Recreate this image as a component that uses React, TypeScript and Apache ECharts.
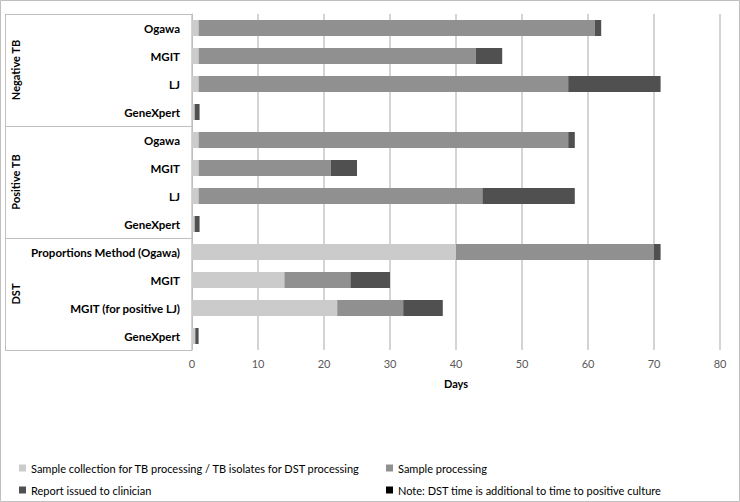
import React, { useEffect, useRef } from "react";
import * as echarts from "echarts";

const categories = [
  "Ogawa", "MGIT", "LJ", "GeneXpert",
  "Ogawa", "MGIT", "LJ", "GeneXpert",
  "Proportions Method (Ogawa)", "MGIT", "MGIT (for positive LJ)", "GeneXpert",
];
const groups = ["Negative TB", "Positive TB", "DST"];
const seriesNames = [
  "Sample collection for TB processing / TB isolates for DST processing",
  "Sample processing",
  "Report issued to clinician",
  "Note: DST time is additional to time to positive culture",
];
const collection = [1, 1, 1, 0.35, 1, 1, 1, 0.35, 40, 14, 22, 0.5];
const processing = [60, 42, 56, 0.1, 56, 20, 43, 0.1, 30, 10, 10, 0];
const report = [1, 4, 14, 0.7, 1, 4, 14, 0.7, 1, 6, 6, 0.5];
const note: number[] = [];
const xTicks = { min: 0, max: 80, interval: 10 };
const colors = ["#cbcbcb", "#909090", "#505050", "#000000"];

const FONT = "Lato, 'Noto Sans', sans-serif";

export default function App() {
  const ref = useRef<HTMLDivElement>(null);
  useEffect(() => {
    document.body.style.margin = "0";
    const chart = echarts.init(ref.current!, null, { renderer: "svg" });
    const gridTop = 14;
    const gridH = 336;
    const gridLeft = 192;
    const band = gridH / categories.length;
    const groupLines = [0, 4, 8, 12].map((i) => gridTop + i * band);
    const graphics: any[] = [
      {
        type: "rect",
        shape: { x: 0.5, y: 0.5, width: 739, height: 501 },
        style: { fill: "none", stroke: "#bfbfbf", lineWidth: 1 },
        silent: true,
      },
      {
        type: "line",
        shape: { x1: 5.5, y1: gridTop, x2: 5.5, y2: gridTop + gridH },
        style: { stroke: "#bfbfbf", lineWidth: 1 },
      },
      ...groupLines.map((y) => ({
        type: "line",
        shape: { x1: 5, y1: Math.round(y) + 0.5, x2: gridLeft, y2: Math.round(y) + 0.5 },
        style: { stroke: "#bfbfbf", lineWidth: 1 },
      })),
      ...groups.map((g, i) => ({
        type: "text",
        x: 15,
        y: gridTop + (i * 4 + 2) * band,
        rotation: Math.PI / 2,
        style: {
          text: g,
          fontFamily: FONT,
          fontWeight: "bold",
          fontSize: 11,
          fill: "#000",
          align: "center",
          verticalAlign: "middle",
        },
      })),
    ];
    const legendBase = {
      orient: "vertical",
      icon: "rect",
      itemWidth: 7,
      itemHeight: 7,
      itemGap: 8,
      padding: 0,
      top: 461,
      height: 40,
      textStyle: { fontFamily: FONT, fontSize: 11, color: "#000", lineHeight: 14 },
      selectedMode: false,
    };
    chart.setOption({
      animation: false,
      textStyle: { fontFamily: FONT },
      grid: { left: gridLeft, top: gridTop, width: 528, height: gridH, containLabel: false },
      xAxis: {
        type: "value",
        min: xTicks.min,
        max: xTicks.max,
        interval: xTicks.interval,
        name: "Days",
        nameLocation: "middle",
        nameGap: 28,
        nameTextStyle: { fontFamily: FONT, fontWeight: "bold", fontSize: 11, color: "#000" },
        axisLine: { show: false },
        axisTick: { show: false },
        axisLabel: { color: "#595959", fontSize: 11, margin: 8, fontFamily: FONT },
        splitLine: { show: true, lineStyle: { color: "#c6c6c6", width: 1.5 } },
      },
      yAxis: {
        type: "category",
        inverse: true,
        data: categories,
        axisLine: { show: true, lineStyle: { color: "#bfbfbf", width: 1 } },
        axisTick: { show: false },
        axisLabel: {
          color: "#000",
          fontWeight: "bold",
          fontSize: 11.5,
          fontFamily: FONT,
          margin: 12,
          interval: 0,
        },
      },
      legend: [
        { ...legendBase, left: 19, data: [seriesNames[0], seriesNames[2]] },
        { ...legendBase, left: 386, data: [seriesNames[1], seriesNames[3]] },
      ],
      graphic: graphics,
      series: [collection, processing, report, note].map((d, i) => ({
        name: seriesNames[i],
        type: "bar",
        stack: "total",
        data: d,
        barWidth: 16,
        itemStyle: { color: colors[i] },
        emphasis: { disabled: true },
      })),
    });
    return () => chart.dispose();
  }, []);
  return (
    <div
      ref={ref}
      style={{ position: "absolute", left: 0, top: 0, width: 740, height: 502 }}
    />
  );
}
